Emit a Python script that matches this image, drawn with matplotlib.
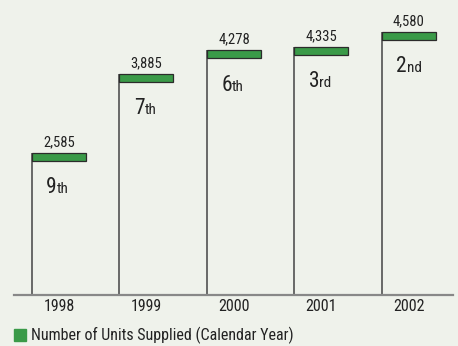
import matplotlib.pyplot as plt
import numpy as np

# units supplied per calendar year and ranking
years = ['1998', '1999', '2000', '2001', '2002']
units = [2585, 3885, 4278, 4335, 4580]
rank_num = ['9', '7', '6', '3', '2']
rank_sfx = ['th', 'th', 'th', 'rd', 'nd']

bg = '#eff2eb'
green = '#3a9a48'
plt.rcParams['font.family'] = ['Roboto Condensed', 'Archivo Narrow', 'PT Sans Narrow',
                               'Sofia Sans Condensed', 'DejaVu Sans']

fig = plt.figure(figsize=(4.58, 3.46), dpi=100, facecolor=bg)
ax = fig.add_axes([14 / 458, 51 / 346, 439 / 458, 295 / 346])
ax.set_facecolor(bg)

x = np.arange(len(years))
w = 0.617
vals = np.array(units)
cap = 132  # height of the green cap in data units

# left edge line of each bar
ax.vlines(x - w / 2, 0, vals, color='#444444', lw=1.1, zorder=2)
# green cap at the top
ax.bar(x, cap, width=w, bottom=vals - cap, color=green,
       edgecolor='#2b2b2b', linewidth=0.9, zorder=3)

for xi, v, rn, rs in zip(x, vals, rank_num, rank_sfx):
    ax.annotate(f'{v:,}', (xi, v), xytext=(0, 5), textcoords='offset points',
                ha='center', va='baseline', fontsize=10.5, color='#222222')
    ax.annotate(rn, (xi, v), xytext=(-1.5, -29), textcoords='offset points',
                ha='right', va='baseline', fontsize=15.5, color='#222222')
    ax.annotate(rs, (xi, v), xytext=(-1.5, -29), textcoords='offset points',
                ha='left', va='baseline', fontsize=11, color='#222222')

ax.set_xlim(-0.514, 4.503)
ax.set_ylim(244, 5108)
ax.set_xticks(x)
ax.set_xticklabels(years, fontsize=11.5, color='#222222')
ax.tick_params(axis='x', length=0, pad=3)
ax.set_yticks([])
for s in ['top', 'right', 'left']:
    ax.spines[s].set_visible(False)
ax.spines['bottom'].set_color('#888888')
ax.spines['bottom'].set_linewidth(1.6)

# legend swatch and caption
fig.patches.append(plt.Rectangle((14 / 458, 5 / 346), 12 / 458, 12 / 346,
                                 transform=fig.transFigure, color=green))
fig.text(31 / 458, 11 / 346, 'Number of Units Supplied (Calendar Year)',
         ha='left', va='center', fontsize=11.5, color='#222222')

fig.savefig('out.png', dpi=100, facecolor=bg)
